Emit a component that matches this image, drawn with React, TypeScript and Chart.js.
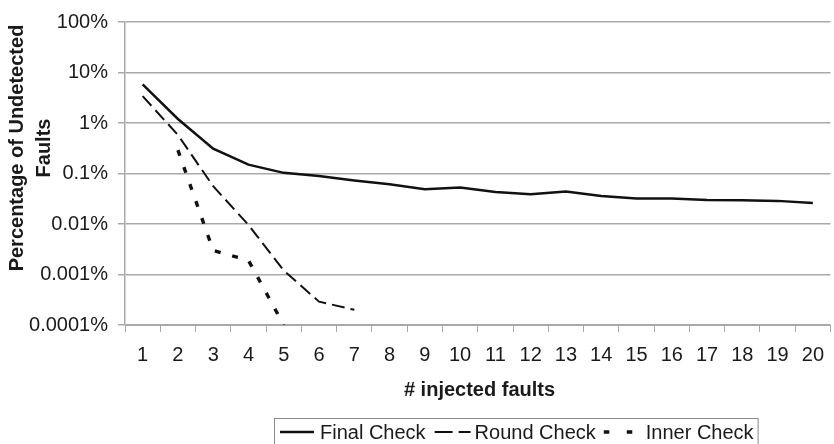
import React, { useEffect, useRef } from 'react';
import { Chart, registerables } from 'chart.js';

Chart.register(...registerables);

const categories = ['1', '2', '3', '4', '5', '6', '7', '8', '9', '10', '11', '12', '13', '14', '15', '16', '17', '18', '19', '20'];
const finalCheck = [5.8, 1.2, 0.31, 0.15, 0.103, 0.089, 0.073, 0.061, 0.049, 0.053, 0.043, 0.039, 0.044, 0.036, 0.032, 0.032, 0.030, 0.0296, 0.0287, 0.026];
const roundCheck = [3.4, 0.58, 0.056, 0.0096, 0.0012, 0.00029, 0.0002, null, null, null, null, null, null, null, null, null, null, null, null, null];
const innerCheck = [null, 0.29, 0.003, 0.0019, 0.0001, null, null, null, null, null, null, null, null, null, null, null, null, null, null, null];
const seriesNames = ['Final Check', 'Round Check', 'Inner Check'];
const yTickValues = [100, 10, 1, 0.1, 0.01, 0.001, 0.0001];
const yTickLabels = ['100%', '10%', '1%', '0.1%', '0.01%', '0.001%', '0.0001%'];
const yTitleLines = ['Percentage of Undetected', 'Faults'];
const xTitle = '# injected faults';

const FONT = '"Liberation Sans", Arial, sans-serif';
const GRID = '#a9a9a9';
const TEXT = '#1a1a1a';

const decorPlugin = {
  id: 'decor',
  afterDraw(chart: any) {
    const ctx = chart.ctx as CanvasRenderingContext2D;
    const area = chart.chartArea;
    ctx.save();
    ctx.fillStyle = TEXT;
    ctx.font = `bold 20px ${FONT}`;
    ctx.textBaseline = 'alphabetic';
    // y title
    const midY = 148;
    const baselines = [23, 50];
    yTitleLines.forEach((line, i) => {
      ctx.save();
      ctx.translate(baselines[i], midY);
      ctx.rotate(-Math.PI / 2);
      ctx.textAlign = 'center';
      ctx.fillText(line, 0, 0);
      ctx.restore();
    });
    // x title
    ctx.textAlign = 'center';
    ctx.fillText(xTitle, (area.left + 834) / 2, 396);

    // legend
    ctx.font = `20px ${FONT}`;
    ctx.textAlign = 'left';
    const boxLeft = 274;
    const boxTop = 418;
    const sampleW = [34, 36, 29];
    const textGap = [6, 4, 13];
    const itemGap = [9, 8, 0];
    const legendDash: (number[] | null)[] = [null, [18, 6], [5.5, 17.5]];
    let x = 280;
    const ly = 432;
    let lastEnd = x;
    const ds = chart.data.datasets;
    ds.forEach((d: any, i: number) => {
      ctx.save();
      ctx.strokeStyle = d.borderColor;
      ctx.lineWidth = d.borderWidth;
      ctx.setLineDash(legendDash[i] || d.borderDash || []);
      ctx.beginPath();
      ctx.moveTo(x, ly);
      ctx.lineTo(x + sampleW[i], ly);
      ctx.stroke();
      ctx.restore();
      ctx.fillStyle = TEXT;
      const tx = x + sampleW[i] + textGap[i];
      ctx.fillText(d.label, tx, 439);
      lastEnd = tx + ctx.measureText(d.label).width;
      x = lastEnd + itemGap[i];
    });
    const boxRight = lastEnd + 4;
    ctx.strokeStyle = '#8a8a8a';
    ctx.lineWidth = 1;
    ctx.setLineDash([]);
    ctx.strokeRect(boxLeft + 0.5, boxTop + 0.5, boxRight - boxLeft, 40);
    ctx.restore();
  },
};

export default function App() {
  const ref = useRef<HTMLCanvasElement | null>(null);
  useEffect(() => {
    if (!ref.current) return;
    const chart = new Chart(ref.current, {
      type: 'line',
      data: {
        labels: categories,
        datasets: [
          { label: seriesNames[0], data: finalCheck, borderColor: '#111', borderWidth: 2.5, pointRadius: 0, tension: 0, fill: false },
          { label: seriesNames[1], data: roundCheck, borderColor: '#111', borderWidth: 2, borderDash: [13, 6], pointRadius: 0, tension: 0, fill: false },
          { label: seriesNames[2], data: innerCheck, borderColor: '#111', borderWidth: 3.4, borderDash: [6, 12], pointRadius: 0, tension: 0, fill: false },
        ],
      },
      options: {
        responsive: false,
        animation: false,
        layout: { padding: { top: 20, left: 0, right: 0, bottom: 0 } },
        plugins: { legend: { display: false }, tooltip: { enabled: false }, title: { display: false } },
        scales: {
          x: {
            type: 'category',
            offset: true,
            grid: { display: true, drawOnChartArea: false, drawTicks: true, tickLength: 7, color: GRID, offset: true },
            border: { display: true, color: GRID, width: 1 },
            ticks: { color: TEXT, font: { family: FONT, size: 20 }, padding: 11, maxRotation: 0, autoSkip: false },
            afterFit: (scale: any) => { scale.height = 444 - 325; },
          },
          y: {
            type: 'logarithmic',
            min: 0.0001,
            max: 100,
            grid: { color: GRID, lineWidth: 1.5, tickLength: 7 },
            border: { display: true, color: GRID, width: 1.5 },
            ticks: {
              color: TEXT,
              font: { family: FONT, size: 20 },
              padding: 10,
              callback: (v: any) => {
                const idx = yTickValues.findIndex((t) => Math.abs(Math.log10(t) - Math.log10(Number(v))) < 1e-6);
                return idx >= 0 ? yTickLabels[idx] : '';
              },
            },
            afterBuildTicks: (scale: any) => { scale.ticks = yTickValues.map((v) => ({ value: v })); },
            afterFit: (scale: any) => { scale.width = 125; },
          },
        },
      },
      plugins: [decorPlugin],
    } as any);
    return () => chart.destroy();
  }, []);
  return (
    <div style={{ position: 'fixed', left: 0, top: 0, width: 834, height: 444, overflow: 'hidden', background: '#fff' }}>
      <canvas ref={ref} width={835} height={444} style={{ display: 'block' }} />
    </div>
  );
}
